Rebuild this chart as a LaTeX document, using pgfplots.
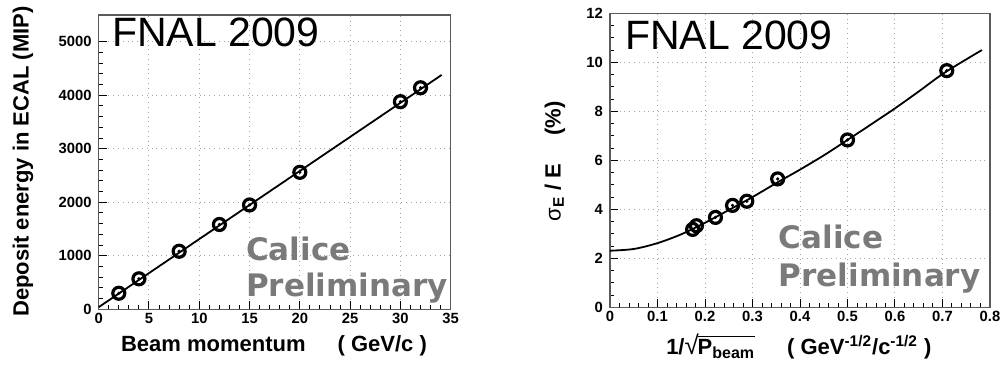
\documentclass[border=0pt]{standalone}
\usepackage{fontspec}
\setmainfont{Liberation Sans}
\newfontfamily\calfont{DejaVu Sans}
\usepackage{pgfplots}
\usepackage{pgfplotstable}
\pgfplotsset{compat=1.18}
\definecolor{calgray}{RGB}{122,122,122}
\definecolor{framegray}{RGB}{90,90,90}

\pgfplotstableread{
x y
2 300
4 570
8 1085
12 1585
15 1950
20 2560
30 3880
32 4140
}\leftdata

\pgfplotstableread{
x y
0.174 3.18
0.182 3.33
0.222 3.67
0.258 4.16
0.288 4.33
0.353 5.24
0.500 6.83
0.709 9.66
}\rightdata

\pgfplotstableread{
x y
0 2.31
0.05 2.38
0.1 2.62
0.15 2.98
0.2 3.45
0.25 3.97
0.3 4.50
0.35 5.07
0.4 5.62
0.45 6.20
0.5 6.83
0.55 7.47
0.6 8.12
0.65 8.81
0.7 9.52
0.75 10.12
0.783 10.50
}\rightfit

\pgfplotsset{rootstyle/.style={
  scale only axis,
  axis line style={framegray, line width=0.6pt},
  tick align=inside, tick pos=left,
  major tick length=4pt, minor tick length=2pt,
  every tick/.style={black, line width=0.5pt},
  grid=major, major grid style={dotted, gray!70, line width=0.5pt},
  tick label style={font=\bfseries\fontsize{7.4}{8}\selectfont},
  xticklabel style={yshift=1.5pt},
  /pgf/number format/assume math mode=true,
  /pgf/number format/1000 sep={},
  scaled ticks=false,
  clip=false,
}}

\begin{document}
\begin{tikzpicture}
\path[use as bounding box] (0,0) rectangle (500pt,182.5pt);

\begin{axis}[rootstyle, at={(49.35pt,27.85pt)}, anchor=south west,
  width=176pt, height=147.15pt,
  xmin=0, xmax=35, ymin=0, ymax=5500,
  xtick={0,5,10,15,20,25,30,35}, ytick={0,1000,2000,3000,4000,5000},
  minor x tick num=4, minor y tick num=4]
\addplot[black, line width=0.9pt] coordinates {(0,40) (34.1,4380)};
\addplot[only marks, mark=o, mark size=3pt, mark options={black, line width=1.6pt}] table[x=x,y=y] {\leftdata};
\addplot[only marks, mark=*, mark size=0.6pt, mark options={black}] table[x=x,y=y] {\leftdata};
\node[anchor=base west, inner sep=0, font=\fontsize{20.5}{21}\selectfont] at (rel axis cs:0.037,0.892) {FNAL 2009};
\node[anchor=base west, inner sep=0, text=calgray, font=\calfont\bfseries\fontsize{15.5}{16}\selectfont] at (rel axis cs:0.418,0.1675) {Calice};
\node[anchor=base west, inner sep=0, text=calgray, font=\calfont\bfseries\fontsize{15.5}{16}\selectfont] at (rel axis cs:0.418,0.043) {Preliminary};
\node[anchor=base, inner sep=0, font=\bfseries\fontsize{11}{12}\selectfont, yshift=-21.2pt] at (rel axis cs:0.498,0) {Beam momentum\hspace{16pt}( GeV/c )};
\node[inner sep=0, font=\bfseries\fontsize{11}{12}\selectfont, xshift=-37.9pt, rotate=90] at (rel axis cs:0,0.502) {Deposit energy in ECAL (MIP)};
\end{axis}

\begin{axis}[rootstyle, at={(305pt,28.85pt)}, anchor=south west,
  width=190pt, height=147pt,
  xmin=0, xmax=0.8, ymin=0, ymax=12,
  xtick={0,0.1,0.2,0.3,0.4,0.5,0.6,0.7,0.8}, ytick={0,2,4,6,8,10,12},
  xticklabel style={/pgf/number format/fixed, /pgf/number format/precision=1},
  minor x tick num=4, minor y tick num=3]
\addplot[black, line width=0.9pt, smooth] table[x=x,y=y] {\rightfit};
\addplot[only marks, mark=o, mark size=3pt, mark options={black, line width=1.6pt}] table[x=x,y=y] {\rightdata};
\addplot[only marks, mark=*, mark size=0.6pt, mark options={black}] table[x=x,y=y] {\rightdata};
\node[anchor=base west, inner sep=0, font=\fontsize{20.5}{21}\selectfont] at (rel axis cs:0.039,0.878) {FNAL 2009};
\node[anchor=base west, inner sep=0, text=calgray, font=\calfont\bfseries\fontsize{15.5}{16}\selectfont] at (rel axis cs:0.443,0.2007) {Calice};
\node[anchor=base west, inner sep=0, text=calgray, font=\calfont\bfseries\fontsize{15.5}{16}\selectfont] at (rel axis cs:0.443,0.0724) {Preliminary};
\node[anchor=base, inner sep=0, font=\bfseries\fontsize{11}{12}\selectfont, yshift=-23.5pt] at (rel axis cs:0.497,0) {1/{\mdseries\fontsize{13}{13}\selectfont √}\kern-0.6pt$\overline{\mbox{\bfseries\fontsize{11}{12}\selectfont P}_{\mbox{\bfseries\fontsize{8}{9}\selectfont beam}}}$\hspace{16pt}( GeV\textsuperscript{-1/2}/c\textsuperscript{-1/2} )};
\node[inner sep=0, font=\fontsize{11}{12}\selectfont, xshift=-27.5pt, rotate=90] at (rel axis cs:0,0.496) {σ\textsubscript{\bfseries E}\bfseries\ / E\hspace{14pt}(\%)};
\end{axis}
\end{tikzpicture}
\end{document}
